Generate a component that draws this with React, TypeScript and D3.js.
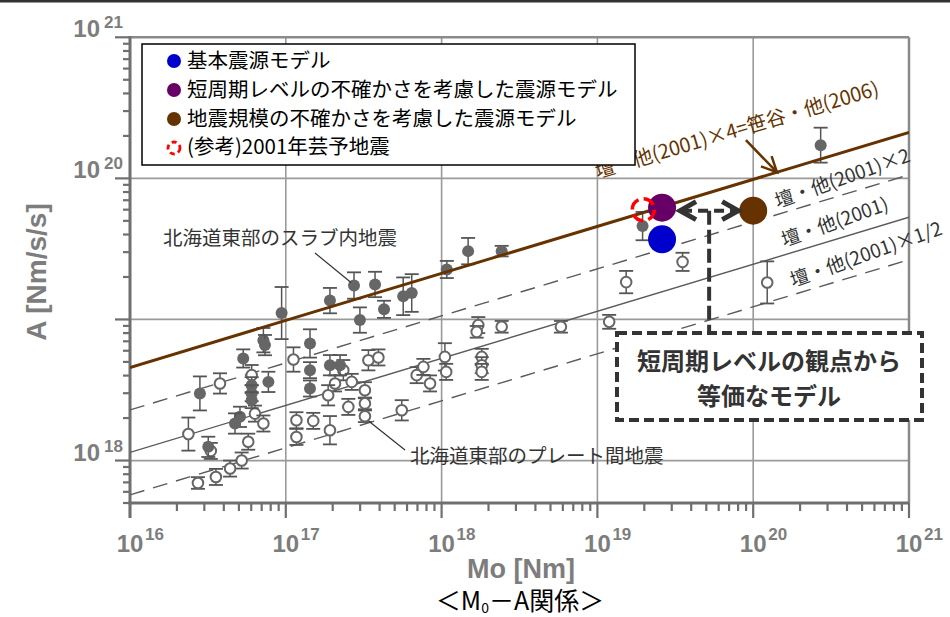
import React from "react";
import * as d3 from "d3";

// ---------- data ----------
const xTickExps = [16, 17, 18, 19, 20, 21];
const yTickExps = [18, 20, 21];
const yGridExps = [18, 19, 20];

// Slab events (filled): Mo [Nm], A [Nm/s/s], error factor
const slabMo = [9.4e16, 1.92e17, 2.74e17, 3.74e17, 4.27e17, 2.99e17, 5.67e17, 6.43e17, 7.18e16, 7.35e16, 5.33e16, 1.43e17, 1.43e17, 1.43e17, 1.92e17, 2.23e17, 7.73e16, 6.04e16, 6.04e16, 6.04e16, 2.81e16, 5.08e16, 4.72e16, 3.18e16, 1.08e18, 1.48e18, 2.43e18, 1.95e19, 2.71e20];
const slabA = [1.11e19, 1.36e19, 1.74e19, 1.77e19, 1.18e19, 9.9e18, 1.46e19, 1.54e19, 7.13e18, 6.58e18, 5.29e18, 6.76e18, 4.37e18, 3.24e18, 4.74e18, 4.74e18, 3.61e18, 3.42e18, 3.0e18, 2.68e18, 2.99e18, 2.04e18, 1.83e18, 1.25e18, 2.26e19, 3.05e19, 3.05e19, 4.59e19, 1.72e20];
const slabErr = [1.53, 1.23, 1.24, 1.23, 1.15, 1.23, 1.36, 1.36, 1.22, 1.18, 1.16, 1.26, 1.14, 1.14, 1.18, 1.18, 1.18, 1.14, 1.14, 1.14, 1.32, 1.18, 1.18, 1.18, 1.15, 1.24, 1.09, 1.26, 1.33];

// Interplate events (open)
const plateMo = [1.12e17, 6.04e16, 3.78e16, 3.39e17, 3.93e17, 2.34e17, 2.07e17, 2.65e17, 3.22e17, 1.87e17, 3.22e17, 2.52e17, 3.22e17, 5.55e17, 6.34e16, 7.18e16, 1.17e17, 1.5e17, 1.92e17, 1.17e17, 5.74e16, 6.92e17, 7.64e17, 8.43e17, 1.05e18, 1.07e18, 1.81e18, 1.81e18, 1.81e18, 1.72e18, 1.68e18, 2.43e18, 5.83e18, 1.19e19, 1.53e19, 3.52e19, 1.23e20, 2.37e16, 3.3e16, 5.21e16, 4.39e16, 3.56e16, 2.73e16];
const plateA = [5.2e18, 4.03e18, 3.52e18, 5.14e18, 5.38e18, 4.37e18, 3.52e18, 3.61e18, 3.15e18, 2.9e18, 2.54e18, 2.4e18, 2.06e18, 2.27e18, 2.15e18, 1.83e18, 1.93e18, 1.91e18, 1.64e18, 1.47e18, 1.36e18, 4.03e18, 4.61e18, 3.52e18, 5.43e18, 4.25e18, 5.43e18, 4.74e18, 4.25e18, 9.12e18, 8.17e18, 8.87e18, 8.87e18, 9.62e18, 1.84e19, 2.56e19, 1.83e19, 1.54e18, 1.17e18, 1.0e18, 8.77e17, 7.65e17, 6.93e17];
const plateErr = [1.22, 1.18, 1.18, 1.18, 1.14, 1.18, 1.14, 1.14, 1.14, 1.18, 1.1, 1.14, 1.1, 1.18, 1.14, 1.14, 1.14, 1.14, 1.26, 1.14, 1.14, 1.14, 1.14, 1.14, 1.25, 1.14, 1.14, 1.14, 1.14, 1.14, 1.1, 1.1, 1.1, 1.12, 1.2, 1.16, 1.41, 1.31, 1.14, 1.14, 1.14, 1.14, 1.1];

// Source models
const modelNames = ["基本震源モデル", "短周期レベルの不確かさを考慮した震源モデル", "地震規模の不確かさを考慮した震源モデル"];
const modelColors = ["#0000cc", "#660066", "#663300"];
const modelMo = [2.6e19, 2.6e19, 1.0e20];
const modelA = [3.7e19, 6.2e19, 5.9e19];

const refName = "(参考)2001年芸予地震";
const refMo = [1.97e19];
const refA = [6.0e19];

// Dan et al. (2001) scaling multipliers
const danFactors = [2, 1, 0.5];
const danDashed = [true, false, true];
const danLabels = ["壇・他(2001)×2", "壇・他(2001)", "壇・他(2001)×1/2"];
const danLabelMo = [1.44e20, 1.58e20, 1.8e20];
const danLabelA = [6.15e19, 3.26e19, 1.69e19];
const sasataniFactor = 4;
const sasataniLabel = "壇・他(2001)×4=笹谷・他(2006)";
const sasataniLabelMo = 1.0e19;
const sasataniLabelA = 1.0e20;
const sasataniArrowMo = 1.42e20;

const dan = (mo: number, f: number) => f * 2.46e10 * Math.cbrt(mo * 1e7);

const W = 950, H = 617;
const x = d3.scaleLog().domain([1e16, 1e21]).range([130, 909]);
const y = d3.scaleLog().domain([5e17, 1e21]).range([503, 37.3]);

const GRID = "#9a9a9a";
const AX = "#6f6f6f";
const LBL = "#7d7d7d";
const PT = "#666666";
const BROWN = "#663300";
const JP = "'Noto Sans CJK JP', 'Noto Sans', sans-serif";
const LAT = "'Liberation Sans', Arial, sans-serif";

function minorTicks(lo: number, hi: number) {
  const out: number[] = [];
  for (let e = lo; e < hi; e++) for (let m = 1; m < 10; m++) out.push(m * Math.pow(10, e));
  out.push(Math.pow(10, hi));
  return out;
}

function ErrPoint({ mo, a, err, filled }: { mo: number; a: number; err: number; filled: boolean }) {
  const cx = x(mo), cy = y(a), y1 = y(a * err), y2 = y(a / err);
  return (
    <g>
      <line x1={cx} x2={cx} y1={y1} y2={y2} stroke="#555" strokeWidth={1.5} />
      <line x1={cx - 7} x2={cx + 7} y1={y1} y2={y1} stroke="#555" strokeWidth={1.8} />
      <line x1={cx - 7} x2={cx + 7} y1={y2} y2={y2} stroke="#555" strokeWidth={1.8} />
      {filled ? (
        <circle cx={cx} cy={cy} r={6} fill={PT} />
      ) : (
        <circle cx={cx} cy={cy} r={5.3} fill="#fff" stroke={PT} strokeWidth={2} />
      )}
    </g>
  );
}

export default function App() {
  const [x0, x1] = x.domain();
  const yMinorTicks = minorTicks(17, 21).filter((v) => v >= 5e17 * 0.999);
  const xMinorTicks = minorTicks(16, 21);
  const isMajor = (v: number) => Math.abs(Math.log10(v) - Math.round(Math.log10(v))) < 1e-6;

  // Sasatani arrow
  const tipX = x(sasataniArrowMo), tipY = y(dan(sasataniArrowMo, sasataniFactor));
  const tailX = tipX - 31, tailY = tipY - 32;
  const ang = Math.atan2(tipY - tailY, tipX - tailX);
  const ah = 17, spread = 0.45;

  // double arrow between models
  const ay = y(modelA[1]) + 3;
  const axL = x(modelMo[1]) + 18;
  const axR = x(modelMo[2]) - 15;
  const midX = (axL + axR) / 2;

  const sx = x(sasataniLabelMo), sy = y(sasataniLabelA);

  return (
    <svg width={W} height={H} style={{ position: "absolute", left: 0, top: 0, background: "#fff" }}>
      <defs>
        <clipPath id="plot">
          <rect x={130} y={37.3} width={779} height={465.7} />
        </clipPath>
      </defs>
      <rect x={0} y={0} width={W} height={2.5} fill="#333" />

      {/* grid */}
      {xTickExps.slice(1, 5).map((e) => (
        <line key={"gx" + e} x1={x(Math.pow(10, e))} x2={x(Math.pow(10, e))} y1={37.3} y2={503} stroke={GRID} strokeWidth={1.6} />
      ))}
      {yGridExps.map((e) => (
        <line key={"gy" + e} x1={130} x2={909} y1={y(Math.pow(10, e))} y2={y(Math.pow(10, e))} stroke={GRID} strokeWidth={1.8} />
      ))}
      {/* frame */}
      <line x1={130} x2={909} y1={37.3} y2={37.3} stroke="#8a8a8a" strokeWidth={2.5} />
      <line x1={909} x2={909} y1={37.3} y2={503} stroke="#8a8a8a" strokeWidth={2.5} />
      <line x1={130} x2={130} y1={36} y2={518} stroke={AX} strokeWidth={3} />
      <line x1={128.5} x2={909} y1={503} y2={503} stroke={AX} strokeWidth={3} />

      {/* ticks */}
      {yMinorTicks.map((v, i) => (
        <line key={"yt" + i} x1={isMajor(v) ? 115 : 123} x2={130} y1={y(v)} y2={y(v)} stroke={AX} strokeWidth={2.2} />
      ))}
      {xMinorTicks.map((v, i) => (
        <line key={"xt" + i} x1={x(v)} x2={x(v)} y1={503} y2={isMajor(v) ? 518 : 511} stroke={AX} strokeWidth={2.2} />
      ))}

      {/* tick labels */}
      {xTickExps.map((e) => (
        <g key={"xl" + e} fill={LBL} fontFamily={LAT} fontWeight="bold">
          <text x={x(Math.pow(10, e))} y={552} fontSize={24} textAnchor="middle">10</text>
          <text x={x(Math.pow(10, e)) + 15} y={540} fontSize={17}>{e}</text>
        </g>
      ))}
      {yTickExps.map((e) => (
        <g key={"yl" + e} fill={LBL} fontFamily={LAT} fontWeight="bold">
          <text x={100} y={y(Math.pow(10, e))} fontSize={24} textAnchor="end">10</text>
          <text x={123} y={y(Math.pow(10, e)) - 9} fontSize={17} textAnchor="end">{e}</text>
        </g>
      ))}

      {/* axis titles */}
      <text x={521} y={578} textAnchor="middle" fontFamily={LAT} fontWeight="bold" fontSize={27} fill={LBL}>Mo [Nm]</text>
      <text transform="translate(46,272) rotate(-90)" textAnchor="middle" fontFamily={LAT} fontWeight="bold" fontSize={28} fill={LBL}>A [Nm/s/s]</text>
      <text x={520} y={610} textAnchor="middle" fontFamily={JP} fontSize={25} fill="#000">
        ＜M<tspan fontSize={14} dy={3}>0</tspan><tspan dy={-3}>－A関係＞</tspan>
      </text>

      {/* Dan lines */}
      <g clipPath="url(#plot)">
        {danFactors.map((f, i) => (
          <line key={"d" + i} x1={x(x0)} y1={y(dan(x0, f))} x2={x(x1)} y2={y(dan(x1, f))}
            stroke="#5a5a5a" strokeWidth={1.4} strokeDasharray={danDashed[i] ? "15,9" : undefined} />
        ))}
      </g>

      {/* data points */}
      {plateMo.map((m, i) => (
        <ErrPoint key={"p" + i} mo={m} a={plateA[i]} err={plateErr[i]} filled={false} />
      ))}
      {slabMo.map((m, i) => (
        <ErrPoint key={"s" + i} mo={m} a={slabA[i]} err={slabErr[i]} filled={true} />
      ))}

      {/* Sasatani line */}
      <g clipPath="url(#plot)">
        <line x1={x(x0)} y1={y(dan(x0, sasataniFactor))} x2={x(x1)} y2={y(dan(x1, sasataniFactor))} stroke={BROWN} strokeWidth={3} />
      </g>

      {/* Dan labels */}
      {danLabels.map((t, i) => (
        <text key={"dlab" + i} transform={`translate(${x(danLabelMo[i])},${y(danLabelA[i])}) rotate(-19.5)`}
          fontFamily={JP} fontSize={19} fill="#333">{t}</text>
      ))}
      <text transform={`translate(${sx},${sy}) rotate(-16.5)`} fontFamily={JP} fontSize={19.8} fill={BROWN}>{sasataniLabel}</text>
      <line x1={tailX} y1={tailY} x2={tipX} y2={tipY} stroke={BROWN} strokeWidth={2.5} />
      <polyline
        points={`${tipX - ah * Math.cos(ang - spread)},${tipY - ah * Math.sin(ang - spread)} ${tipX},${tipY} ${tipX - ah * Math.cos(ang + spread)},${tipY - ah * Math.sin(ang + spread)}`}
        fill="none" stroke={BROWN} strokeWidth={2.5} />

      {/* event group labels */}
      <text x={163} y={245} fontFamily={JP} fontSize={19.5} fill="#333">北海道東部のスラブ内地震</text>
      <line x1={315} y1={253} x2={x(slabMo[2]) - 3} y2={y(slabA[2]) - 3} stroke="#333" strokeWidth={1.2} />
      <text x={410} y={463} fontFamily={JP} fontSize={19.5} fill="#333">北海道東部のプレート間地震</text>
      <line x1={x(plateMo[12]) + 4} y1={y(plateA[12]) + 5} x2={405} y2={450} stroke="#333" strokeWidth={1.2} />

      {/* legend */}
      <rect x={142} y={44} width={493} height={121} fill="#fff" stroke="#000" strokeWidth={1.5} />
      {modelNames.map((n, i) => (
        <g key={"lg" + i}>
          <circle cx={174} cy={61 + i * 29} r={7} fill={modelColors[i]} />
          <text x={187} y={61 + i * 29} dy="0.36em" fontFamily={JP} fontSize={20.5} fill="#000">{n}</text>
        </g>
      ))}
      <circle cx={174} cy={148} r={6} fill="none" stroke="#ff0000" strokeWidth={2.8} strokeDasharray="5,3.4" />
      <text x={187} y={147} dy="0.36em" fontFamily={JP} fontSize={20.5} fill="#000">{refName}</text>

      {/* model markers */}
      {modelMo.map((m, i) => (
        <circle key={"mm" + i} cx={x(m)} cy={y(modelA[i])} r={14} fill={modelColors[i]} />
      ))}
      <circle cx={x(refMo[0])} cy={y(refA[0])} r={11} fill="none" stroke="#ff0000" strokeWidth={3.5} strokeDasharray="12,5.3" />

      {/* double-headed dashed arrow */}
      <line x1={axL + 2} x2={axR - 2} y1={ay} y2={ay} stroke="#333" strokeWidth={4} strokeDasharray="10,6" />
      <polyline points={`${axL + 16},${ay - 9} ${axL},${ay} ${axL + 16},${ay + 9}`} fill="none" stroke="#333" strokeWidth={5} />
      <polyline points={`${axR - 16},${ay - 9} ${axR},${ay} ${axR - 16},${ay + 9}`} fill="none" stroke="#333" strokeWidth={5} />
      <line x1={midX} x2={midX} y1={ay} y2={333} stroke="#333" strokeWidth={4} strokeDasharray="14,5" />

      {/* dashed note box */}
      <rect x={617} y={333} width={305} height={87} fill="#fff" stroke="#333" strokeWidth={4} strokeDasharray="10,5" />
      <text x={769} y={370} textAnchor="middle" fontFamily={JP} fontWeight="bold" fontSize={24} fill="#333">短周期レベルの観点から</text>
      <text x={769} y={405} textAnchor="middle" fontFamily={JP} fontWeight="bold" fontSize={24} fill="#333">等価なモデル</text>
    </svg>
  );
}
